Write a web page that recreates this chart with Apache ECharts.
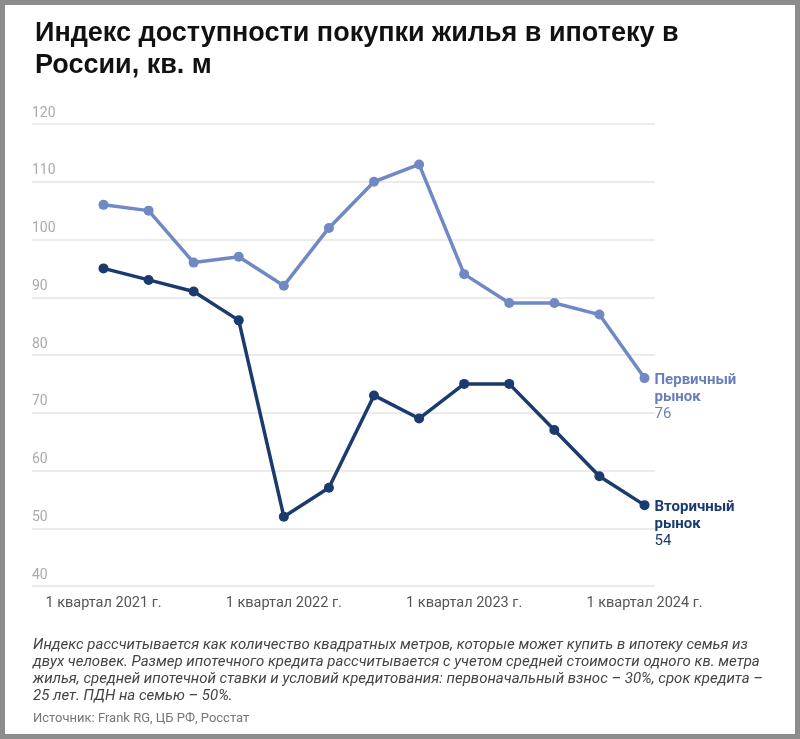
<!DOCTYPE html>
<html><head><meta charset="utf-8">
<script src="https://cdn.jsdelivr.net/npm/echarts@6/dist/echarts.min.js"></script>
<style>html,body{margin:0;padding:0;background:#fff}#c{width:800px;height:739px}</style>
</head><body><div id="c"></div>
<script>
const categories = ["1 квартал 2021 г.","2 квартал 2021 г.","3 квартал 2021 г.","4 квартал 2021 г.",
  "1 квартал 2022 г.","2 квартал 2022 г.","3 квартал 2022 г.","4 квартал 2022 г.",
  "1 квартал 2023 г.","2 квартал 2023 г.","3 квартал 2023 г.","4 квартал 2023 г.","1 квартал 2024 г."];
const primaryMarket = [106,105,96,97,92,102,110,113,94,89,89,87,76];
const secondaryMarket = [95,93,91,86,52,57,73,69,75,75,67,59,54];
const yTicks = [40,50,60,70,80,90,100,110,120];
const titleText = "Индекс доступности покупки жилья в ипотеку в\nРоссии, кв. м";
const noteLines = [
  "Индекс рассчитывается как количество квадратных метров, которые может купить в ипотеку семья из",
  "двух человек. Размер ипотечного кредита рассчитывается с учетом средней стоимости одного кв. метра",
  "жилья, средней ипотечной ставки и условий кредитования: первоначальный взнос – 30%, срок кредита –",
  "25 лет. ПДН на семью – 50%."
];
const sourceText = "Источник: Frank RG, ЦБ РФ, Росстат";
const names = ["Первичный\nрынок","Вторичный\nрынок"];

const cLight = "#7088c4", cDark = "#1b3a6e";
const chart = echarts.init(document.getElementById('c'));
function endLbl(color, name){
  return {show:true, distance:10, offset:[0,19],
    formatter: p => name.split("\n").map(s=>"{n|"+s+"}").join("\n")+"\n{v|"+p.value+"}",
    rich:{n:{fontFamily:"Roboto",fontWeight:"bold",fontSize:15,color:color,lineHeight:17},
          v:{fontFamily:"Roboto",fontSize:15,color:color,lineHeight:17}}};
}
chart.setOption({
  animation:false,
  title:{text:titleText,left:30,top:13,textStyle:{fontFamily:"Liberation Sans",fontWeight:"bold",fontSize:27,lineHeight:32,color:"#111"}},
  grid:[{left:32,right:145,top:124,bottom:153},{left:103.5,right:155.5,top:124,bottom:153}],
  xAxis:[{gridIndex:0,type:'value',show:false,min:0,max:1},
    {gridIndex:1,type:'category',data:categories,boundaryGap:false,axisLine:{show:false},axisTick:{show:false},
     axisLabel:{interval:3,margin:10,fontFamily:"Roboto",fontSize:14.5,color:"#555"}}],
  yAxis:[{gridIndex:0,type:'value',min:yTicks[0],max:yTicks[yTicks.length-1],interval:10,
     axisLine:{show:false},axisTick:{show:false},
     splitLine:{lineStyle:{color:"#e5e5e5",width:1.5}},
     axisLabel:{inside:true,margin:0,align:'left',verticalAlign:'bottom',padding:[0,0,4,0],fontFamily:"Roboto",fontSize:14,color:"#aaa"}},
    {gridIndex:1,type:'value',min:yTicks[0],max:yTicks[yTicks.length-1],show:false}],
  series:[
    {type:'line',xAxisIndex:1,yAxisIndex:1,data:primaryMarket,color:cLight,symbol:'circle',symbolSize:10,
     lineStyle:{width:3.5},endLabel:endLbl("#6a7fb8",names[0])},
    {type:'line',xAxisIndex:1,yAxisIndex:1,data:secondaryMarket,color:cDark,symbol:'circle',symbolSize:10,
     lineStyle:{width:3.5},endLabel:endLbl(cDark,names[1])}
  ],
  graphic:[
    {type:'text',left:33,top:637,style:{text:noteLines.join("\n"),font:"italic 15px Roboto",lineHeight:17,fill:"#444"}},
    {type:'text',left:33,top:712,style:{text:sourceText,font:"13px Roboto",fill:"#777"}},
    {type:'rect',shape:{x:2.5,y:2.5,width:795,height:734},style:{fill:null,stroke:"#8c8c8c",lineWidth:5},silent:true}
  ]
});
</script></body></html>
